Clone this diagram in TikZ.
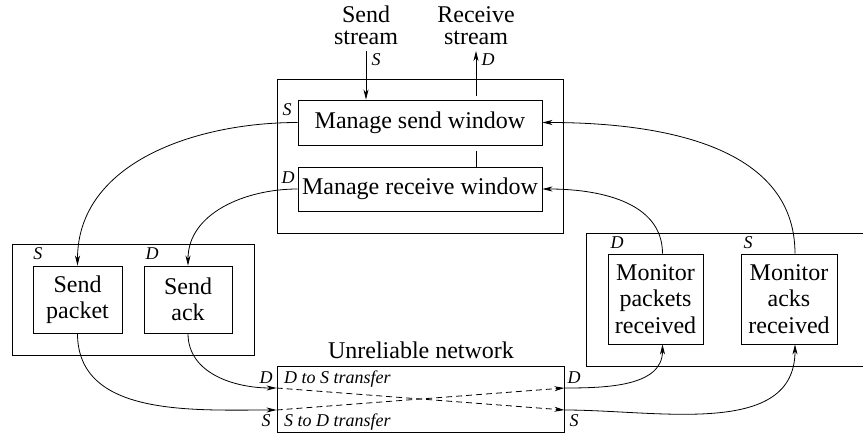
\documentclass[tikz,border=0pt]{standalone}
\usepackage{fontspec}
\setmainfont{Liberation Serif}
\usetikzlibrary{arrows.meta,calc}
\begin{document}
\begin{tikzpicture}[x=1pt,y=-1pt,
  box/.style={draw, line width=0.9pt, inner sep=0pt, align=center, font=\fontsize{24}{26.5}\selectfont},
  cont/.style={draw, line width=0.9pt, inner sep=0pt},
  lbl/.style={font=\fontsize{18}{20}\selectfont\itshape, inner sep=1pt},
  txt/.style={font=\fontsize{24}{22}\selectfont, align=center, inner sep=1pt},
  conn/.style={line width=0.8pt, -{Stealth[length=10pt,width=5pt,inset=3pt]}},
  wire/.style={line width=0.8pt},
  dsh/.style={dash pattern=on 6pt off 4pt},
]
\useasboundingbox (0,0) rectangle (863,433);
\clip (0,0) rectangle (863,433);

% containers
\node[cont, minimum width=286pt, minimum height=154pt] (top) at (420,156) {};
\node[cont, minimum width=242pt, minimum height=111pt] (left) at (133,299.5) {};
\node[cont, minimum width=294pt, minimum height=133pt] (right) at (733,299.5) {};
\node[cont, minimum width=287pt, minimum height=66pt] (net) at (420.5,399) {};

% boxes
\node[box, minimum width=244pt, minimum height=45pt] (msw) at (420,122.5) {Manage send window};
\node[box, minimum width=244pt, minimum height=44pt] (mrw) at (420,189) {Manage receive window};
\node[box, minimum width=89pt, minimum height=67pt] (sp) at (77.5,299.5) {Send\\packet};
\node[box, minimum width=88pt, minimum height=67pt] (sa) at (188,299.5) {Send\\ack};
\node[box, minimum width=95pt, minimum height=90pt] (mpr) at (655.5,299) {Monitor\\packets\\received};
\node[box, minimum width=96pt, minimum height=90pt] (mar) at (789,299) {Monitor\\acks\\received};

% texts
\node[txt, anchor=south] (ss) at (366,46) {Send\\stream};
\node[txt, anchor=south] (rs) at (476,46) {Receive\\stream};
\node[txt] (un) at (421,350) {Unreliable network};
\node[lbl, anchor=west] (dst) at (283,379) {D to S transfer};
\node[lbl, anchor=west] (sdt) at (283,422) {S to D transfer};

% port labels
\node[lbl] (l1) at (376,60) {S};
\node[lbl] (l2) at (488,60) {D};
\node[lbl] (l3) at (287,110) {S};
\node[lbl] (l4) at (288,178) {D};
\node[lbl] (l5) at (38,254) {S};
\node[lbl] (l6) at (152,254) {D};
\node[lbl] (l7) at (617,243) {D};
\node[lbl] (l8) at (748,243) {S};
\node[lbl] (l9) at (266,378) {D};
\node[lbl] (l10) at (266,421) {S};
\node[lbl] (l11) at (574,378) {D};
\node[lbl] (l12) at (574,421) {S};

% ports
\coordinate (nDL) at ([yshift=11pt]net.west);
\coordinate (nSL) at ([yshift=-11pt]net.west);
\coordinate (nDR) at ([yshift=11pt]net.east);
\coordinate (nSR) at ([yshift=-11pt]net.east);

% stream arrows
\draw[conn, shorten <=5pt] (ss.south) -- ([xshift=-54pt]msw.north);
\draw[conn, shorten <=4pt] ([xshift=56pt]msw.north) -- ([yshift=-5pt]rs.south);
\draw[wire, shorten <=6pt] ([xshift=56pt]msw.south) -- ([xshift=56pt]mrw.north);

% window to send boxes
\draw[conn] (msw.west) to[out=180, in=90] (sp.north);
\draw[conn] (mrw.west) to[out=180, in=90] (sa.north);

% send boxes to network
\draw[conn] (sp.south) to[out=-90, in=180] (nSL);
\draw[conn] (sa.south) to[out=-90, in=180] (nDL);

% across network
\draw[conn, dsh] (nDL) -- (nSR);
\draw[conn, dsh] (nSL) -- (nDR);

% network to monitors
\draw[conn] (nDR) to[out=0, in=-90] ([xshift=7pt]mpr.south);
\draw[conn] (nSR) to[out=0, in=-90] ([xshift=6pt]mar.south);

% monitors to windows
\draw[conn] ([xshift=7pt]mpr.north) to[out=90, in=0] (mrw.east);
\draw[conn] ([xshift=6pt]mar.north) to[out=90, in=0] (msw.east);
\end{tikzpicture}
\end{document}
